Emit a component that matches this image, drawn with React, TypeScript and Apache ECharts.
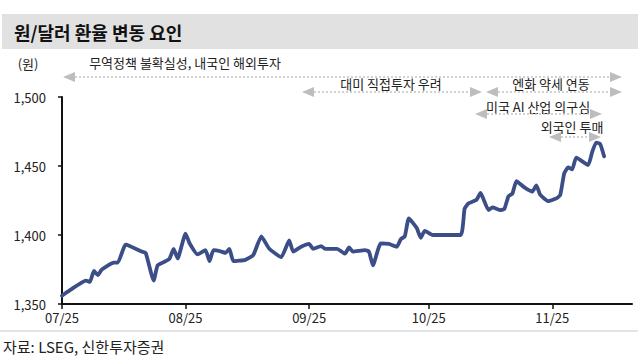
import React, { useEffect, useRef } from "react";
import * as echarts from "echarts";

const title = "원/달러 환율 변동 요인";
const unitLabel = "(원)";
const source = "자료: LSEG, 신한투자증권";

const dates = [
  "2025-07-01", "2025-07-03", "2025-07-07", "2025-07-08", "2025-07-09", "2025-07-10", "2025-07-11",
  "2025-07-14", "2025-07-15", "2025-07-17", "2025-07-21", "2025-07-22", "2025-07-24", "2025-07-25",
  "2025-07-27", "2025-07-28", "2025-07-29", "2025-07-30", "2025-08-01", "2025-08-02", "2025-08-04",
  "2025-08-06", "2025-08-07", "2025-08-08", "2025-08-10", "2025-08-11", "2025-08-12", "2025-08-13",
  "2025-08-16", "2025-08-18", "2025-08-20", "2025-08-22", "2025-08-25", "2025-08-27", "2025-08-28",
  "2025-08-30", "2025-09-01", "2025-09-02", "2025-09-04", "2025-09-05", "2025-09-08", "2025-09-10",
  "2025-09-11", "2025-09-12", "2025-09-15", "2025-09-16", "2025-09-17", "2025-09-19", "2025-09-21",
  "2025-09-23", "2025-09-24", "2025-09-25", "2025-09-26", "2025-09-28", "2025-09-29", "2025-09-30",
  "2025-10-02", "2025-10-09", "2025-10-10", "2025-10-11", "2025-10-13", "2025-10-14", "2025-10-16",
  "2025-10-17", "2025-10-19", "2025-10-20", "2025-10-21", "2025-10-22", "2025-10-23", "2025-10-25",
  "2025-10-27", "2025-10-28", "2025-10-29", "2025-10-31", "2025-11-02", "2025-11-03", "2025-11-04",
  "2025-11-05", "2025-11-06", "2025-11-07", "2025-11-10", "2025-11-11", "2025-11-12", "2025-11-13",
  "2025-11-14",
];

const rates = [
  1356, 1360, 1367, 1366, 1374, 1371, 1375,
  1380, 1380, 1393, 1388, 1387, 1367, 1378,
  1381, 1383, 1390, 1383, 1401, 1394, 1386,
  1389, 1381, 1389, 1388, 1387, 1390, 1381,
  1382, 1385.5, 1399, 1390, 1384, 1396, 1388,
  1391.5, 1393.5, 1390, 1392, 1390, 1390, 1386.5,
  1391, 1388, 1389, 1388, 1378, 1394, 1393.5,
  1391.5, 1397, 1399, 1412, 1405, 1398, 1403,
  1400, 1400, 1419, 1423, 1425.5, 1430.5, 1418,
  1420, 1418, 1419, 1428, 1430, 1439, 1434.5,
  1431.5, 1436, 1429, 1424.5, 1426.5, 1429, 1444.7,
  1449, 1447.6, 1456, 1450.7, 1460, 1467, 1466,
  1457,
];

// month tick dates
const monthTicks = ["2025-07-01", "2025-08-01", "2025-09-01", "2025-10-01", "2025-11-01"];
const xMin = "2025-07-01";
const xMax = "2025-11-21";

const yTicks = [1350, 1400, 1450, 1500];

const annotations = [
  { text: "무역정책 불확실성, 내국인 해외투자", tx: 185, ty: 62, x1: 63, x2: 622, y: 77 },
  { text: "대미 직접투자 우려", tx: 391, ty: 83, x1: 302, x2: 482, y: 92 },
  { text: "엔화 약세 연동", tx: 551, ty: 83, x1: 486, x2: 622, y: 92 },
  { text: "미국 AI 산업 의구심", tx: 538, ty: 106, x1: 475, x2: 602, y: 114 },
  { text: "외국인 투매", tx: 572, ty: 126, x1: 549, x2: 601, y: 137 },
];

const FONT = "'Noto Sans CJK KR', 'Noto Sans', sans-serif";
const DAY = 86400000;

function toDay(d: string): number {
  const [yy, mm, dd] = d.split("-").map(Number);
  return Math.round(Date.UTC(yy, mm - 1, dd) / DAY);
}

function dayLabel(v: number): string {
  const d = new Date(Math.round(v) * DAY);
  const mm = String(d.getUTCMonth() + 1).padStart(2, "0");
  const yy = String(d.getUTCFullYear() % 100).padStart(2, "0");
  return `${mm}/${yy}`;
}

function arrow(x1: number, x2: number, y: number): any[] {
  const hl = 12;
  const hh = 5;
  const head = "#bdbdbd";
  return [
    {
      type: "line",
      shape: { x1: x1 + hl, y1: y, x2: x2 - hl, y2: y },
      style: { stroke: "#c4c4c4", lineWidth: 1.5, lineDash: [2, 2] },
      silent: true,
    },
    {
      type: "polygon",
      shape: { points: [[x1, y], [x1 + hl, y - hh], [x1 + hl, y + hh]] },
      style: { fill: head },
      silent: true,
    },
    {
      type: "polygon",
      shape: { points: [[x2, y], [x2 - hl, y - hh], [x2 - hl, y + hh]] },
      style: { fill: head },
      silent: true,
    },
  ];
}

export default function App() {
  const ref = useRef<HTMLDivElement>(null);

  useEffect(() => {
    if (!ref.current) return;
    const chart = echarts.init(ref.current, undefined, { renderer: "svg" });

    const tickValues = monthTicks.map(toDay);

    const graphics: any[] = [
      {
        type: "rect",
        shape: { x: 2, y: 14, width: 636, height: 35 },
        style: { fill: "#e1e1e1" },
        silent: true,
      },
      {
        type: "text",
        x: 14,
        y: 32,
        style: {
          text: title,
          font: `bold 18px ${FONT}`,
          fill: "#111",
          verticalAlign: "middle",
        },
      },
      {
        type: "text",
        x: 28,
        y: 63,
        style: {
          text: unitLabel,
          font: `13px ${FONT}`,
          fill: "#222",
          align: "center",
          verticalAlign: "middle",
        },
      },
      {
        type: "line",
        shape: { x1: 0, y1: 331, x2: 638, y2: 331 },
        style: { stroke: "#c8c8c8", lineWidth: 1 },
        silent: true,
      },
      {
        type: "text",
        x: 3,
        y: 346,
        style: {
          text: source,
          font: `15px ${FONT}`,
          fill: "#222",
          verticalAlign: "middle",
        },
      },
    ];

    annotations.forEach((a) => {
      graphics.push({
        type: "text",
        x: a.tx,
        y: a.ty,
        style: {
          text: a.text,
          font: `13px ${FONT}`,
          fill: "#222",
          align: "center",
          verticalAlign: "middle",
        },
      });
      graphics.push(...arrow(a.x1, a.x2, a.y));
    });

    const data = dates.map((d, i) => [toDay(d), rates[i]]);

    chart.setOption({
      animation: false,
      backgroundColor: "#ffffff",
      grid: { left: 62, right: 12, top: 97, bottom: 54, containLabel: false },
      xAxis: {
        type: "value",
        min: toDay(xMin),
        max: toDay(xMax),
        axisLine: { show: true, lineStyle: { color: "#111", width: 2 } },
        axisTick: { show: true, length: 5, lineStyle: { color: "#111", width: 1.5 }, customValues: tickValues },
        axisLabel: {
          customValues: tickValues,
          margin: 7,
          fontSize: 13,
          fontFamily: FONT,
          color: "#222",
          formatter: (v: number) => dayLabel(v),
        },
        splitLine: { show: false },
      },
      yAxis: {
        type: "value",
        min: yTicks[0],
        max: yTicks[yTicks.length - 1],
        interval: 50,
        axisLine: { show: true, lineStyle: { color: "#111", width: 2 } },
        axisTick: { show: true, length: 4, lineStyle: { color: "#111", width: 1.5 } },
        axisLabel: {
          margin: 16,
          fontSize: 13,
          fontFamily: FONT,
          color: "#222",
          formatter: (v: number) => v.toLocaleString("en-US"),
        },
        splitLine: { show: false },
      },
      series: [
        {
          type: "line",
          data,
          showSymbol: false,
          symbol: "none",
          smooth: 0.15,
          lineStyle: { color: "#3c4e88", width: 3.8, join: "round", cap: "round" },
        },
      ],
      graphic: graphics,
    });

    return () => chart.dispose();
  }, []);

  return <div ref={ref} style={{ width: 644, height: 358, position: "absolute", left: 0, top: 0 }} />;
}
